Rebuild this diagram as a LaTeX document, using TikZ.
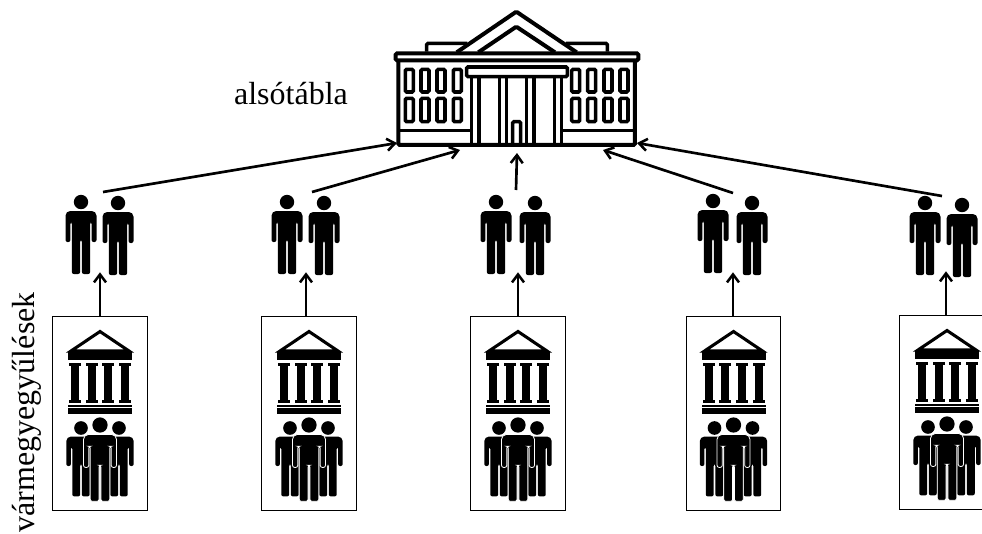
\documentclass[tikz,border=0pt]{standalone}
\usepackage{fontspec}
\setmainfont{Liberation Serif}
\usetikzlibrary{arrows.meta}
\tikzset{
	person/.pic={
		\fill (0,0) circle (7.2);
		\path[body] (-15.5,40) -- (-15.5,16) {[rounded corners=3.5pt] -- (-15.5,9) -- (15.5,9)} -- (15.5,40) -- (10.6,40) -- (10.6,20) -- (9.2,20) -- (9.2,72) -- (0.9,72) -- (0.9,38) -- (-0.9,38) -- (-0.9,72) -- (-9.2,72) -- (-9.2,20) -- (-10.6,20) -- (-10.6,40) -- cycle;
	},
	temple/.pic={
		\draw[line width=2.3pt,line join=miter] (-29,35) -- (0,15.5) -- (29,35) -- cycle;
		\fill (-32,36) rectangle (32,44);
		\foreach \cx in {-25,-8.3,8.3,25}{
			\fill (\cx-6,46.5) rectangle (\cx+6,49.5);
			\fill (\cx-4,49.5) rectangle (\cx+4,84);
			\fill (\cx-6,84) rectangle (\cx+6,87);
		}
		\fill (-32,88.5) rectangle (32,90.5);
		\fill (-32,92) rectangle (32,98);
	},
	crowd/.pic={
		\pic[scale=0.95] at (-19,112) {person};
		\pic[scale=0.95] at (19,112) {person};
		\pic[scale=1.06,body/.append style={draw=white,line width=0.6pt}] at (0,109) {person};
	},
	body/.style={fill=black,rounded corners=1.5pt},
	assembly/.style={draw,line width=0.75pt,minimum width=94.5pt*0.75,minimum height=194*0.75pt,inner sep=0pt},
	pairbox/.style={minimum width=60*0.75pt,minimum height=78*0.75pt,inner sep=0pt},
	link/.style={line width=2pt,-{Straight Barb[length=6pt,width=9pt,line width=1.9pt]}},
	hallstroke/.style={line width=2.7pt,rounded corners=1pt},
	caption/.style={font=\fontsize{24}{28}\selectfont,inner sep=0pt}
}
\begin{document}
\begin{tikzpicture}[x=0.75pt,y=-0.75pt]
	\clip (0,0) rectangle (982,533);
	% hall
	\begin{scope}[shift={(380,0)},scale=0.3333]
		\draw[hallstroke] (140,155) -- (140,130) -- (262,130);
		\draw[hallstroke] (558,130) -- (682,130) -- (682,155);
		\draw[hallstroke,line width=3pt] (230,157) -- (409,35) -- (590,157);
		\draw[hallstroke,line width=3pt] (295,157) -- (409,80) -- (525,157);
		\draw[hallstroke,line width=3pt] (47,160) rectangle (775,181);
		\draw[hallstroke,line width=3pt] (55,181) -- (55,435) -- (765,435) -- (765,181);
		\foreach \wx in {88,135,183,232,587,635,684,732}{
			\draw[hallstroke] (\wx-12,208) rectangle (\wx+12,276);
			\draw[hallstroke] (\wx-12,295) rectangle (\wx+12,365);
		}
		\draw[hallstroke] (60,392) -- (272,392);
		\draw[hallstroke] (548,392) -- (760,392);
		\draw[hallstroke] (260,201) rectangle (562,230);
		\foreach \cx in {275,297,358,380,440,462,523,545}
		\draw[hallstroke] (\cx,230) -- (\cx,435);
		\draw[hallstroke] (398,435) -- (398,365) -- (422,365) -- (422,435);
	\end{scope}
	% nodes
	\node[caption] (upper) at (291,94) {alsótábla};
	\node[caption,rotate=90,anchor=base west] (county) at (34,532.5) {vármegyegyűlések};
	\node[assembly] (b1) at (100,413) {};
	\node[assembly] (b2) at (309,413) {};
	\node[assembly] (b3) at (518,413) {};
	\node[assembly] (b4) at (733.5,413) {};
	\node[assembly] (b5) at (947,412.5) {};
	\node[pairbox] (p1) at (100,233) {};
	\node[pairbox] (p2) at (306,233) {};
	\node[pairbox] (p3) at (518,233) {};
	\node[pairbox] (p4) at (733,233) {};
	\node[pairbox] (p5) at (946,232) {};
	% figures
	\foreach \bx/\by in {100/316,309/316,518/316,733.5/316,947/315}{
		\pic at (\bx,\by) {temple};
		\pic at (\bx,\by) {crowd};
	}
	\foreach \fx/\fy in {81/202,118/203,287/202,324/203,496/202,535/203,713/201,752/203,925/203,962/205}
	\pic at (\fx,\fy) {person};
	% arrow ends
	\coordinate (t1) at (103,192);
	\coordinate (t2) at (312,192);
	\coordinate (t3) at (516,190);
	\coordinate (t4) at (733,193);
	\coordinate (t5) at (942,196);
	\coordinate (h1) at (397,143);
	\coordinate (h2) at (460,150);
	\coordinate (h3) at (517,153);
	\coordinate (h4) at (603,150);
	\coordinate (h5) at (637,143);
	\foreach \from/\to in {t1/h1,t2/h2,t3/h3,t4/h4,t5/h5}
	\draw[link] (\from) -- (\to);
	\foreach \from/\to in {b1/p1,b2/p2,b3/p3,b4/p4,b5/p5}
	\draw[link] (\to.south |- \from.north) -- (\to.south);
\end{tikzpicture}
\end{document}
